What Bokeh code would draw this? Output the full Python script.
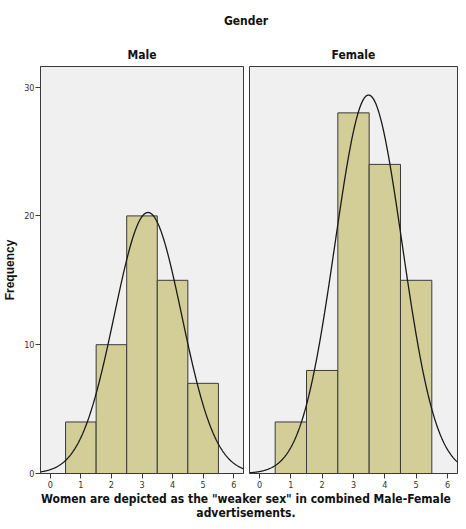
import numpy as np
from bokeh.plotting import figure
from bokeh.layouts import column, row
from bokeh.models import Range1d, FixedTicker
from bokeh.embed import file_html
from bokeh.resources import INLINE
from bokeh.core.properties import value

# ---- data ----
categories = [1, 2, 3, 4, 5]
male_counts = [4, 10, 20, 15, 7]
female_counts = [4, 8, 28, 24, 15]
x_ticks = [0, 1, 2, 3, 4, 5, 6]
y_ticks = [0, 10, 20, 30]
panel_titles = ["Male", "Female"]
overall_title = "Gender"
x_label = 'Women are depicted as the "weaker sex" in combined Male-Female\nadvertisements.'
y_label = "Frequency"

X_MIN, X_MAX = -0.32, 6.32
Y_MAX = 31.6

NARROW = "DejaVu Sans Condensed"
BAR_FILL = "#d3ce97"
EDGE = "#3a3a3a"
BG = "#f0f0f0"


def normal_curve(cats, counts, xs):
    c = np.array(cats, float)
    f = np.array(counts, float)
    n = f.sum()
    m = (c * f).sum() / n
    sd = np.sqrt(((c - m) ** 2 * f).sum() / (n - 1))
    return n * np.exp(-0.5 * ((xs - m) / sd) ** 2) / (sd * np.sqrt(2 * np.pi))


LEFT_B = 34
TOP_B = 26
BOT_B = 18
FRAME_H = 407
PANEL_H = TOP_B + FRAME_H + BOT_B
FRAME_W = 209
GAP = 5
TOTAL_W = LEFT_B + FRAME_W + 1 + GAP + FRAME_W


def panel(name, counts, show_y, width, left_border):
    p = figure(width=width, height=PANEL_H,
               x_range=Range1d(X_MIN, X_MAX), y_range=Range1d(0, Y_MAX),
               output_backend="svg", toolbar_location=None,
               min_border_left=left_border, min_border_right=1,
               min_border_top=TOP_B, min_border_bottom=BOT_B,
               y_axis_location="left" if show_y else None,
               title=name)
    p.title.align = "center"
    p.title.text_font = NARROW
    p.title.text_font_size = "12px"
    p.title.text_font_style = "bold"
    p.title.text_color = "#111111"
    p.title.standoff = 9
    p.background_fill_color = BG
    p.border_fill_color = "white"
    p.outline_line_color = EDGE
    p.outline_line_width = 1
    p.grid.visible = False

    p.vbar(x=categories, top=counts, bottom=0, width=1.0,
           fill_color=BAR_FILL, line_color=EDGE, line_width=1)
    xs = np.linspace(X_MIN, X_MAX, 400)
    p.line(xs, normal_curve(categories, counts, xs), line_color="#1a1a1a", line_width=1.3)

    p.xaxis.ticker = FixedTicker(ticks=x_ticks)
    p.xaxis.major_label_text_font = NARROW
    p.xaxis.major_label_text_font_size = "9px"
    p.xaxis.major_label_text_color = "#333333"
    p.xaxis.major_tick_out = 5
    p.xaxis.major_tick_in = 0
    p.xaxis.minor_tick_out = 0
    p.xaxis.minor_tick_in = 0
    p.xaxis.axis_line_color = EDGE
    p.xaxis.major_tick_line_color = EDGE
    p.xaxis.major_label_standoff = 2

    if show_y:
        p.yaxis.ticker = FixedTicker(ticks=y_ticks)
        p.yaxis.major_label_text_font = NARROW
        p.yaxis.major_label_text_font_size = "9px"
        p.yaxis.major_label_text_color = "#333333"
        p.yaxis.major_tick_out = 5
        p.yaxis.major_tick_in = 0
        p.yaxis.minor_tick_out = 0
        p.yaxis.minor_tick_in = 0
        p.yaxis.axis_line_color = EDGE
        p.yaxis.major_tick_line_color = EDGE
        p.yaxis.major_label_standoff = 1
        p.yaxis.axis_label = y_label
        p.yaxis.axis_label_text_font = "Liberation Sans"
        p.yaxis.axis_label_text_font_size = "12px"
        p.yaxis.axis_label_text_font_style = "bold"
        p.yaxis.axis_label_text_color = "#111111"
        p.yaxis.axis_label_standoff = 4
    return p


left = panel(panel_titles[0], male_counts, True, LEFT_B + FRAME_W + 1, LEFT_B)
right = panel(panel_titles[1], female_counts, False, GAP + FRAME_W, GAP)


def text_fig(h, txt, yfrac, baseline):
    f = figure(width=TOTAL_W, height=h, x_range=Range1d(0, 1), y_range=Range1d(0, 1),
               output_backend="svg", toolbar_location=None,
               x_axis_type=None, y_axis_type=None,
               min_border_left=LEFT_B, min_border_right=1,
               min_border_top=0, min_border_bottom=0)
    f.outline_line_color = None
    f.grid.visible = False
    f.background_fill_color = "white"
    f.text(x=[0.5], y=[yfrac], text=[txt], text_align="center",
           text_baseline=baseline, text_font=value(NARROW),
           text_font_size="12px", text_font_style="bold", text_color="#111111",
           text_line_height=1.05)
    return f


head = text_fig(40, overall_title, 0.5, "middle")
foot = text_fig(30, x_label, 1.0, "top")

layout = column(head, row(left, right), foot)
open("out.html", "w").write(file_html(layout, INLINE))
